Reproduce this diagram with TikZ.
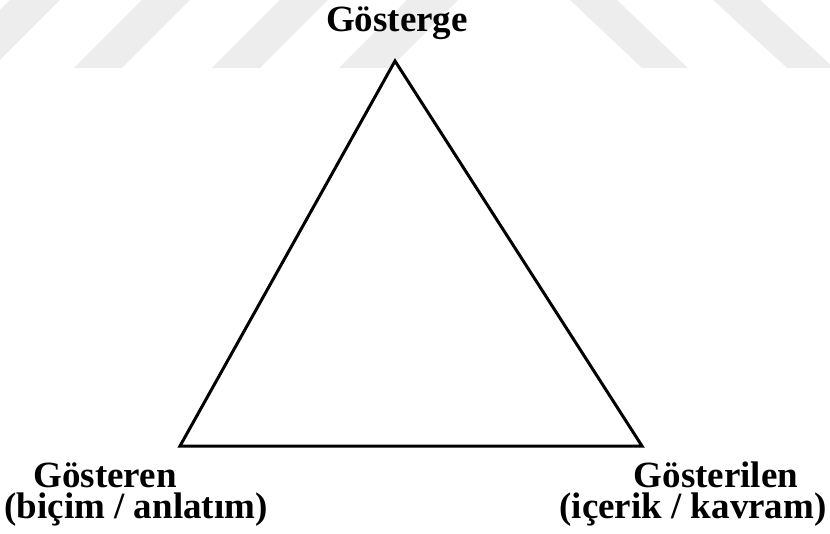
\documentclass[tikz,border=0pt]{standalone}
\usepackage{fontspec}
\setmainfont{Liberation Serif}
\begin{document}
\begin{tikzpicture}[x=1pt,y=-1pt,
  lbl/.style={anchor=base,inner sep=0pt,text height=24pt,text depth=6pt,font=\fontsize{37}{37}\selectfont\bfseries},
  stripe/.style={fill=black!7,draw=none},
  tri/.style={draw=black,line width=3pt,line join=miter}]
\useasboundingbox (0,0) rectangle (830,534);
\begin{scope}
\clip (0,0) rectangle (830,534);
% watermark stripes
\fill[stripe] (-58,68) -- (-8,68) -- (60,0) -- (10,0) -- cycle;
\fill[stripe] (74,68) -- (122,68) -- (190,0) -- (142,0) -- cycle;
\fill[stripe] (212,68) -- (260,68) -- (328,0) -- (280,0) -- cycle;
\fill[stripe] (339,68) -- (390,68) -- (458,0) -- (407,0) -- cycle;
\fill[stripe] (570,0) -- (617,0) -- (688,68) -- (642,68) -- cycle;
\fill[stripe] (713,0) -- (760,0) -- (834,68) -- (787,68) -- cycle;
\end{scope}
% triangle
\coordinate (top) at (395,61);
\coordinate (bl) at (180,446);
\coordinate (br) at (642,446);
\draw[tri] (top) -- (br) -- (bl) -- cycle;
% labels
\node[lbl] (gosterge) at (397,32) {Gösterge};
\node[lbl] (gosteren) at (105,487) {Gösteren};
\node[lbl] (bicim) at (136,518) {(biçim / anlatım)};
\node[lbl] (gosterilen) at (716,487) {Gösterilen};
\node[lbl] (icerik) at (693,518) {(içerik / kavram)};
\end{tikzpicture}
\end{document}
